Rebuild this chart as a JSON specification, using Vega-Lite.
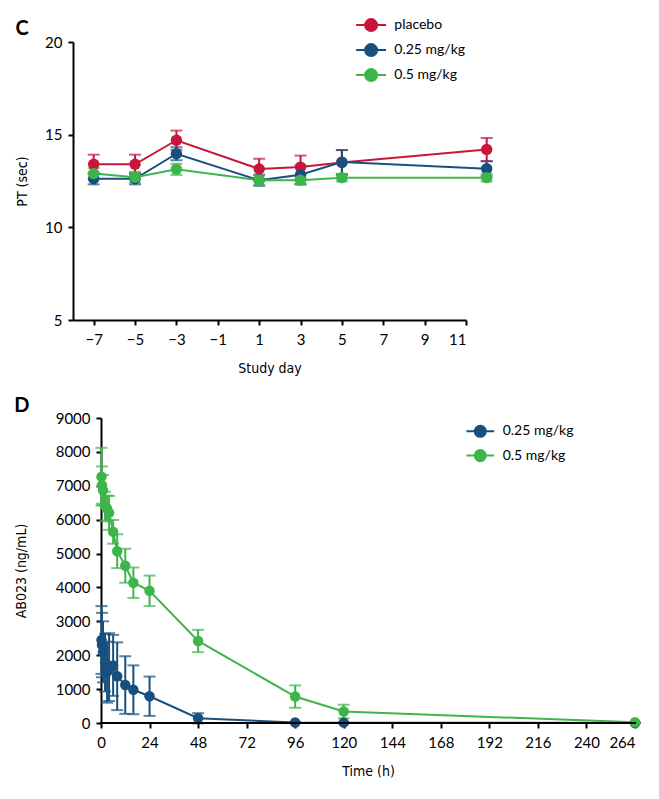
{
  "$schema": "https://vega.github.io/schema/vega-lite/v6.json",
  "background": "white",
  "padding": {"top": 14, "left": 14, "right": 10, "bottom": 10},
  "datasets": {
    "pt": [
      {"group": "placebo", "day": -7, "mean": 13.4, "sd": 0.52},
      {"group": "placebo", "day": -5, "mean": 13.4, "sd": 0.52},
      {"group": "placebo", "day": -3, "mean": 14.7, "sd": 0.52},
      {"group": "placebo", "day": 1, "mean": 13.15, "sd": 0.55},
      {"group": "placebo", "day": 3, "mean": 13.25, "sd": 0.62},
      {"group": "placebo", "day": 5, "mean": 13.5, "sd": 0.67},
      {"group": "placebo", "day": 12, "mean": 14.2, "sd": 0.62},
      {"group": "0.25 mg/kg", "day": -7, "mean": 12.62, "sd": 0.3},
      {"group": "0.25 mg/kg", "day": -5, "mean": 12.62, "sd": 0.3},
      {"group": "0.25 mg/kg", "day": -3, "mean": 13.97, "sd": 0.35},
      {"group": "0.25 mg/kg", "day": 1, "mean": 12.54, "sd": 0.3},
      {"group": "0.25 mg/kg", "day": 3, "mean": 12.84, "sd": 0.5},
      {"group": "0.25 mg/kg", "day": 5, "mean": 13.52, "sd": 0.65},
      {"group": "0.25 mg/kg", "day": 12, "mean": 13.16, "sd": 0.4},
      {"group": "0.5 mg/kg", "day": -7, "mean": 12.9, "sd": 0.3},
      {"group": "0.5 mg/kg", "day": -5, "mean": 12.7, "sd": 0.3},
      {"group": "0.5 mg/kg", "day": -3, "mean": 13.13, "sd": 0.3},
      {"group": "0.5 mg/kg", "day": 1, "mean": 12.54, "sd": 0.25},
      {"group": "0.5 mg/kg", "day": 3, "mean": 12.54, "sd": 0.25},
      {"group": "0.5 mg/kg", "day": 5, "mean": 12.68, "sd": 0.2},
      {"group": "0.5 mg/kg", "day": 12, "mean": 12.68, "sd": 0.2}
    ],
    "pk": [
      {"group": "0.25 mg/kg", "t": 0.25, "mean": 2450, "sd": 1000},
      {"group": "0.25 mg/kg", "t": 0.5, "mean": 2300, "sd": 950},
      {"group": "0.25 mg/kg", "t": 1, "mean": 2100, "sd": 900},
      {"group": "0.25 mg/kg", "t": 2, "mean": 1780, "sd": 850},
      {"group": "0.25 mg/kg", "t": 3, "mean": 1500, "sd": 900},
      {"group": "0.25 mg/kg", "t": 4, "mean": 1650, "sd": 1000},
      {"group": "0.25 mg/kg", "t": 6, "mean": 1700, "sd": 900},
      {"group": "0.25 mg/kg", "t": 8, "mean": 1380, "sd": 1000},
      {"group": "0.25 mg/kg", "t": 12, "mean": 1120, "sd": 850},
      {"group": "0.25 mg/kg", "t": 16, "mean": 980, "sd": 720},
      {"group": "0.25 mg/kg", "t": 24, "mean": 790, "sd": 580},
      {"group": "0.25 mg/kg", "t": 48, "mean": 140, "sd": 150},
      {"group": "0.25 mg/kg", "t": 96, "mean": 15, "sd": 10},
      {"group": "0.25 mg/kg", "t": 120, "mean": 10, "sd": 8},
      {"group": "0.25 mg/kg", "t": 264, "mean": 0, "sd": 0},
      {"group": "0.5 mg/kg", "t": 0.25, "mean": 7270, "sd": 850},
      {"group": "0.5 mg/kg", "t": 0.5, "mean": 7020, "sd": 550},
      {"group": "0.5 mg/kg", "t": 1, "mean": 6870, "sd": 450},
      {"group": "0.5 mg/kg", "t": 2, "mean": 6400, "sd": 420},
      {"group": "0.5 mg/kg", "t": 3, "mean": 6330, "sd": 380},
      {"group": "0.5 mg/kg", "t": 4, "mean": 6200, "sd": 500},
      {"group": "0.5 mg/kg", "t": 6, "mean": 5640, "sd": 350},
      {"group": "0.5 mg/kg", "t": 8, "mean": 5070, "sd": 500},
      {"group": "0.5 mg/kg", "t": 12, "mean": 4640, "sd": 500},
      {"group": "0.5 mg/kg", "t": 16, "mean": 4140, "sd": 450},
      {"group": "0.5 mg/kg", "t": 24, "mean": 3900, "sd": 450},
      {"group": "0.5 mg/kg", "t": 48, "mean": 2420, "sd": 330},
      {"group": "0.5 mg/kg", "t": 96, "mean": 780, "sd": 330},
      {"group": "0.5 mg/kg", "t": 120, "mean": 340, "sd": 200},
      {"group": "0.5 mg/kg", "t": 264, "mean": 20, "sd": 0}
    ]
  },
  "config": {
    "view": {"stroke": null},
    "axis": {
      "domainColor": "black", "domainWidth": 2, "tickColor": "black", "tickWidth": 2, "tickSize": 5,
      "labelColor": "black", "labelFont": "Lato", "labelFontSize": 15, "labelPadding": 6,
      "titleColor": "black", "titleFont": "DejaVu Sans Condensed", "titleFontSize": 14, "titleFontWeight": "normal",
      "grid": false
    },
    "axisX": {"labelPadding": 7, "titlePadding": 14},
    "legend": {"labelFont": "Lato", "labelFontSize": 14, "labelColor": "black", "symbolOpacity": 1},
    "title": {"font": "Lato", "fontSize": 20, "fontWeight": "bold", "color": "black", "anchor": "start", "frame": "bounds"}
  },
  "concat": [
    {
      "title": {"text": "C", "dy": 24, "offset": 0},
      "width": 393,
      "height": 278,
      "data": {"name": "pt"},
      "encoding": {
        "x": {"field": "day", "type": "quantitative", "scale": {"domain": [-8, 11], "nice": false, "zero": false},
              "axis": {"values": [-7, -5, -3, -1, 1, 3, 5, 7, 9, 11], "title": "Study day"}},
        "y": {"field": "mean", "type": "quantitative", "scale": {"domain": [5, 20], "nice": false, "zero": false},
              "axis": {"values": [5, 10, 15, 20], "title": "PT (sec)", "titlePadding": 15}},
        "color": {"field": "group", "type": "nominal",
                  "scale": {"domain": ["placebo", "0.25 mg/kg", "0.5 mg/kg"], "range": ["#c8163a", "#17507f", "#3db54a"]},
                  "legend": {"title": null, "orient": "none", "legendX": 287.6, "legendY": -27.4,
                             "symbolType": "M-1.6,0H1.6M-0.64,0a0.64,0.64 0 1,0 1.28,0a0.64,0.64 0 1,0 -1.28,0",
                             "symbolSize": 350, "symbolStrokeWidth": 2, "rowPadding": 4, "labelOffset": 12.7}}
      },
      "layer": [
        {"mark": {"type": "line", "strokeWidth": 2, "clip": false}},
        {"mark": {"type": "errorbar", "ticks": {"size": 12, "thickness": 2}, "thickness": 2, "clip": false},
         "encoding": {"yError": {"field": "sd"}}},
        {"mark": {"type": "point", "filled": true, "size": 130, "opacity": 1, "clip": false}}
      ]
    },
    {
      "title": {"text": "D", "dy": 5, "offset": 0},
      "width": 562,
      "height": 305,
      "layer": [
        {
          "data": {"name": "pk"},
          "encoding": {
            "x": {"field": "t", "type": "quantitative", "scale": {"domain": [-13.843, 264], "nice": false, "zero": false},
                  "axis": {"values": [0, 24, 48, 72, 96, 120, 144, 168, 192, 216, 240, 264], "title": "Time (h)", "domain": false, "titleX": 295}},
            "y": {"field": "mean", "type": "quantitative", "scale": {"domain": [0, 9000], "nice": false},
                  "axis": {"values": [0, 1000, 2000, 3000, 4000, 5000, 6000, 7000, 8000, 9000], "format": "d", "labelOverlap": false, "title": "AB023 (ng/mL)", "titlePadding": 27, "offset": -28}},
            "color": {"field": "group", "type": "nominal",
                      "scale": {"domain": ["0.25 mg/kg", "0.5 mg/kg"], "range": ["#17507f", "#3db54a"]},
                      "legend": {"title": null, "orient": "none", "legendX": 397.3, "legendY": 3.3,
                                 "symbolType": "M-1.6,0H1.6M-0.64,0a0.64,0.64 0 1,0 1.28,0a0.64,0.64 0 1,0 -1.28,0",
                                 "symbolSize": 300, "symbolStrokeWidth": 2, "rowPadding": 4.3, "labelOffset": 12.4}}
          },
          "layer": [
            {"mark": {"type": "line", "strokeWidth": 2, "clip": false}},
            {"mark": {"type": "errorbar", "ticks": {"size": 12, "thickness": 2}, "thickness": 2, "clip": false},
             "encoding": {"yError": {"field": "sd"}}},
            {"mark": {"type": "point", "filled": true, "size": 110, "opacity": 1, "clip": false}}
          ]
        },
        {
          "data": {"values": [{}]},
          "mark": {"type": "rule", "color": "black", "strokeWidth": 2},
          "encoding": {
            "x": {"datum": -0.5, "type": "quantitative",
                  "axis": {"values": [0, 24, 48, 72, 96, 120, 144, 168, 192, 216, 240, 264], "title": "Time (h)", "domain": false, "titleX": 295}},
            "x2": {"datum": 264.5},
            "y": {"datum": 0, "type": "quantitative",
                  "axis": {"values": [0, 1000, 2000, 3000, 4000, 5000, 6000, 7000, 8000, 9000], "format": "d", "labelOverlap": false, "title": "AB023 (ng/mL)", "titlePadding": 27, "offset": -28}}
          }
        }
      ]
    }
  ],
  "columns": 1,
  "align": "none",
  "spacing": 21,
  "resolve": {"scale": {"color": "independent"}, "legend": {"color": "independent"}}
}
